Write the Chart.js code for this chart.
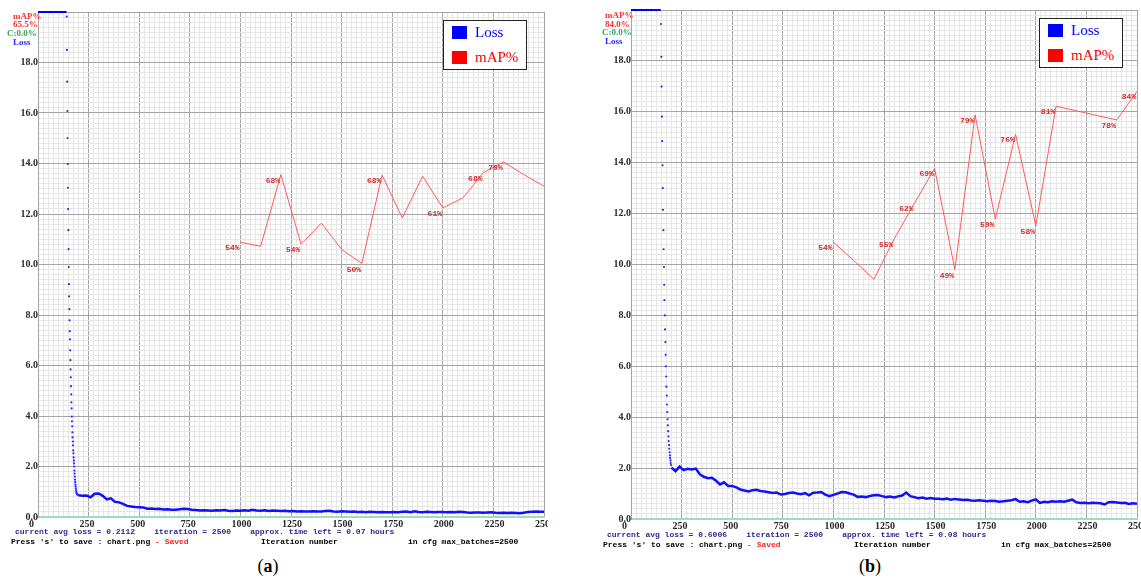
<!DOCTYPE html>
<html lang="en">
<head>
<meta charset="UTF-8">
<title>Training charts</title>
<style>
    body { margin: 0; width: 1141px; height: 586px; position: relative; overflow: hidden; background: #fff; }
    canvas { position: absolute; top: 0; }
    .mono { position: absolute; white-space: pre; font-family: "Liberation Mono", monospace; font-size: 8px; font-weight: bold; line-height: 10px; color: #000; }
    .navy { color: #2a2a90; }
    .red { color: #ff2020; }
    .side { position: absolute; white-space: pre; font-family: "Liberation Serif", serif; font-weight: bold; font-size: 9px; line-height: 10px; }
    .legend { position: absolute; border: 1px solid #222; background: #fff; width: 82px; height: 48px; font-family: "Liberation Serif", serif; font-size: 15px; }
    .legend .sq { position: absolute; left: 8px; width: 15px; height: 13px; }
    .legend .lab { position: absolute; left: 31px; line-height: 16px; }
    .cap { position: absolute; top: 555px; font-family: "Liberation Serif", serif; font-size: 18px; line-height: 22px; transform: translateX(-50%); }
</style>
</head>
<body>
<canvas id="chartA" width="548" height="531" style="left:0px"></canvas>
<canvas id="chartB" width="548" height="533" style="left:593px"></canvas>

<!-- side labels (a) -->
<div class="side" style="left:13px; top:11px; color:#ff3030">mAP%</div>
<div class="side" style="left:13px; top:19px; color:#ff3030">65.5%</div>
<div class="side" style="left:7px; top:28px; color:#30a060">C:0.0%</div>
<div class="side" style="left:13px; top:37px; color:#2a2aff">Loss</div>
<!-- side labels (b) -->
<div class="side" style="left:605px; top:10px; color:#ff3030">mAP%</div>
<div class="side" style="left:605px; top:19px; color:#ff3030">84.0%</div>
<div class="side" style="left:602px; top:27px; color:#30a060">C:0.0%</div>
<div class="side" style="left:605px; top:36px; color:#2a2aff">Loss</div>

<!-- legends -->
<div class="legend" style="left:443px; top:20px">
    <div class="sq" style="top:5px; background:#0000ff"></div><div class="lab" style="top:3px; color:#0000ff">Loss</div>
    <div class="sq" style="top:30px; background:#ff0000"></div><div class="lab" style="top:28px; color:#ff0000">mAP%</div>
</div>
<div class="legend" style="left:1039px; top:18px">
    <div class="sq" style="top:5px; background:#0000ff"></div><div class="lab" style="top:3px; color:#0000ff">Loss</div>
    <div class="sq" style="top:30px; background:#ff0000"></div><div class="lab" style="top:28px; color:#ff0000">mAP%</div>
</div>

<!-- status lines -->
<div class="mono navy" style="left:15px; top:527px">current avg loss = 0.2112    iteration = 2500    approx. time left = 0.07 hours</div>
<div class="mono" style="left:11px; top:537px">Press 's' to save : chart.png <span class="red">- Saved</span></div>
<div class="mono" style="left:261px; top:537px">Iteration number</div>
<div class="mono" style="left:408px; top:537px">in cfg max_batches=2500</div>

<div class="mono navy" style="left:607px; top:530px">current avg loss = 0.6006    iteration = 2500    approx. time left = 0.08 hours</div>
<div class="mono" style="left:603px; top:540px">Press 's' to save : chart.png <span class="red">- Saved</span></div>
<div class="mono" style="left:854px; top:540px">Iteration number</div>
<div class="mono" style="left:1001px; top:540px">in cfg max_batches=2500</div>

<div class="cap" style="left:268px">(<b>a</b>)</div>
<div class="cap" style="left:870px">(<b>b</b>)</div>

<script src="https://cdn.jsdelivr.net/npm/chart.js"></script>
<script>
// ---- data (a) ----
const topIterA = [0, 141];
const topLossA = [20, 20];
const dropIterA = [142,143,144,145,146,147,148,149,150,151,152,153,154,155,156,157,158,159,160,161,
                   162,163,164,165,166,167,168,169,170,171,172,173,174,175,176,177,178,179,180,181,
                   182,183,184,185,186,187,188,189,190,192,194,196,198];
const dropLossA = [19.82,18.50,17.24,16.08,15.01,13.98,13.04,12.19,11.36,10.61,9.90,9.22,8.74,8.23,7.79,7.36,7.04,6.60,6.21,5.85,
                   5.53,5.18,4.86,4.54,4.30,3.98,3.79,3.59,3.35,3.15,2.99,2.84,2.64,2.52,2.36,2.24,2.12,2.00,1.84,1.72,
                   1.60,1.48,1.38,1.28,1.20,1.12,1.05,0.99,0.95,0.92,0.90,0.88,0.87];
const tailIters = [200,220,240,260,280,300,320,340,360,380,
                   400,420,440,460,480,500,520,540,560,580,
                   600,620,640,660,680,700,720,740,760,780,
                   800,820,840,860,880,900,920,940,960,980,
                   1000,1020,1040,1060,1080,1100,1120,1140,1160,1180,
                   1200,1220,1240,1260,1280,1300,1320,1340,1360,1380,
                   1400,1420,1440,1460,1480,1500,1520,1540,1560,1580,
                   1600,1620,1640,1660,1680,1700,1720,1740,1760,1780,
                   1800,1820,1840,1860,1880,1900,1920,1940,1960,1980,
                   2000,2020,2040,2060,2080,2100,2120,2140,2160,2180,
                   2200,2220,2240,2260,2280,2300,2320,2340,2360,2380,
                   2400,2420,2440,2460,2480,2500];
const tailLossA = [0.86,0.84,0.85,0.78,0.92,0.93,0.84,0.70,0.74,0.60,
                   0.58,0.52,0.44,0.42,0.40,0.39,0.38,0.33,0.34,0.32,
                   0.33,0.30,0.31,0.29,0.29,0.31,0.33,0.32,0.29,0.28,
                   0.26,0.27,0.26,0.25,0.27,0.26,0.28,0.25,0.24,0.26,
                   0.25,0.27,0.25,0.29,0.26,0.25,0.27,0.24,0.26,0.25,
                   0.24,0.25,0.23,0.24,0.22,0.23,0.22,0.22,0.23,0.22,
                   0.22,0.24,0.25,0.22,0.21,0.23,0.22,0.21,0.22,0.20,
                   0.21,0.19,0.21,0.20,0.19,0.20,0.19,0.19,0.20,0.19,
                   0.21,0.22,0.19,0.23,0.20,0.19,0.21,0.20,0.19,0.20,
                   0.20,0.19,0.20,0.19,0.21,0.20,0.18,0.17,0.18,0.18,
                   0.17,0.18,0.19,0.17,0.16,0.17,0.16,0.17,0.16,0.15,
                   0.17,0.20,0.21,0.22,0.21,0.21];
const mapIters = [1000,1100,1200,1300,1400,1500,1600,1700,1800,1900,2000,2100,2200,2300,2400,2500];
const mapA = [54.4,53.6,67.8,54.0,58.2,53.0,50.2,67.7,59.2,67.5,61.2,63.2,68.2,70.3,67.8,65.5];
const mapLabelsA = ['54%','','68%','54%','','','50%','68%','','','61%','','68%','70%','',''];

// ---- data (b) ----
const topIterB = [0, 147];
const topLossB = [20, 20];
const dropIterB = [148,150,151,153,154,156,157,158,160,161,163,164,165,167,168,170,171,172,
                   174,175,177,178,179,181,182,184,185,186,188,189,191,192,193,195,196,198];
const dropLossB = [19.45,18.16,16.99,15.81,14.85,13.90,13.00,12.15,11.35,10.60,9.90,9.20,8.60,8.00,7.45,6.95,6.45,6.00,
                   5.60,5.20,4.85,4.50,4.20,3.92,3.68,3.45,3.25,3.06,2.90,2.76,2.62,2.50,2.40,2.30,2.20,2.12];
const tailLossB = [2.02,1.88,2.06,1.92,1.97,1.95,1.98,1.76,1.66,1.60,
                   1.62,1.50,1.36,1.44,1.30,1.30,1.24,1.16,1.12,1.08,
                   1.13,1.15,1.10,1.08,1.05,1.02,1.04,0.96,0.98,1.02,
                   1.04,1.00,0.97,1.02,0.93,1.03,1.04,1.06,0.96,0.90,
                   0.95,1.00,1.06,1.05,1.00,0.96,0.87,0.88,0.86,0.90,
                   0.93,0.94,0.90,0.86,0.88,0.85,0.89,0.92,1.04,0.90,
                   0.86,0.82,0.84,0.80,0.82,0.80,0.80,0.78,0.80,0.76,
                   0.79,0.77,0.75,0.76,0.73,0.72,0.74,0.72,0.70,0.72,
                   0.71,0.68,0.70,0.72,0.74,0.78,0.68,0.70,0.66,0.72,
                   0.77,0.63,0.68,0.66,0.70,0.68,0.70,0.68,0.72,0.76,
                   0.66,0.63,0.64,0.62,0.64,0.63,0.62,0.57,0.66,0.67,
                   0.65,0.63,0.64,0.59,0.62,0.60];
const mapB = [54.4,50.8,47.1,55.0,62.0,68.9,49.0,79.4,58.9,75.6,57.6,81.1,80.2,79.3,78.4,84.0];
const mapLabelsB = ['54%','','','55%','62%','69%','49%','79%','59%','76%','58%','81%','','','78%','84%'];

const MAJOR = '#a4a4a4';
const MINOR = '#e6e6e6';
const AXIS_GREEN = '#9fdcbc';
const tickFont = { family: 'Liberation Serif', size: 10, weight: 'bold' };

function pts(xs, ys) {
    return xs.map((x, i) => ({ x: x, y: ys[i] }));
}

function isMul(v, m) {
    return Math.abs(v / m - Math.round(v / m)) < 1e-6;
}

// draws the "54%" style labels next to the mAP points
const mapLabelPlugin = {
    id: 'mapLabels',
    afterDatasetsDraw(chart) {
        const ctx = chart.ctx;
        chart.data.datasets.forEach((ds, di) => {
            if (!ds.pointLabels) return;
            const meta = chart.getDatasetMeta(di);
            ctx.save();
            ctx.font = 'bold 8px "Liberation Mono"';
            ctx.fillStyle = '#d02a2a';
            ctx.textAlign = 'center';
            ctx.textBaseline = 'middle';
            meta.data.forEach((p, i) => {
                const t = ds.pointLabels[i];
                if (t) ctx.fillText(t, p.x - 8, p.y + 6);
            });
            ctx.restore();
        });
    }
};

function makeChart(id, topPad, d) {
    return new Chart(document.getElementById(id), {
        type: 'line',
        data: {
            datasets: [
                { data: pts(d.topIter, d.topLoss), borderColor: '#0000ff', borderWidth: 2, pointRadius: 0, clip: 4 },
                { data: pts(d.dropIter, d.dropLoss), showLine: false, pointRadius: 1.1, pointBorderWidth: 0,
                  pointBackgroundColor: '#2a2aff' },
                { data: pts(tailIters, d.tailLoss), borderColor: '#1010ff', borderWidth: 2.5, pointRadius: 0 },
                { data: pts(mapIters, d.map), yAxisID: 'yMap', borderColor: '#ff5a5a', borderWidth: 1,
                  pointRadius: 0, pointLabels: d.mapLabels }
            ]
        },
        options: {
            responsive: false,
            animation: false,
            layout: { padding: { top: topPad, left: 0, right: 0, bottom: 0 } },
            plugins: { legend: { display: false }, tooltip: { enabled: false } },
            scales: {
                x: {
                    type: 'linear', min: 0, max: 2500,
                    grid: { color: c => isMul(c.tick.value, 250) ? MAJOR : MINOR, drawTicks: false },
                    border: { color: AXIS_GREEN, width: 2 },
                    ticks: {
                        stepSize: 25, maxTicksLimit: 101, autoSkip: false, maxRotation: 0,
                        align: 'start', labelOffset: -9, padding: 1,
                        font: tickFont, color: '#2a2a2a',
                        callback: v => isMul(v, 250) ? String(Math.round(v)) : ''
                    },
                    afterFit: s => { s.height = 14; s.paddingLeft = 0; s.paddingRight = 0; }
                },
                y: {
                    min: 0, max: 20,
                    grid: {
                        color: c => c.tick.value === 0 ? AXIS_GREEN : (isMul(c.tick.value, 2) ? MAJOR : MINOR),
                        drawTicks: false
                    },
                    border: { color: MAJOR, width: 1 },
                    ticks: {
                        stepSize: 0.2, maxTicksLimit: 101, autoSkip: false, padding: 0,
                        font: tickFont, color: '#2a2a2a',
                        callback: v => (isMul(v, 2) && v < 19.9) ? v.toFixed(1) : ''
                    },
                    afterFit: s => { s.width = 38; s.paddingTop = 0; s.paddingBottom = 0; }
                },
                yMap: { type: 'linear', min: 0, max: 100, display: false }
            }
        },
        plugins: [mapLabelPlugin]
    });
}

makeChart('chartA', 12, {
    topIter: topIterA, topLoss: topLossA, dropIter: dropIterA, dropLoss: dropLossA,
    tailLoss: tailLossA, map: mapA, mapLabels: mapLabelsA
});
makeChart('chartB', 10, {
    topIter: topIterB, topLoss: topLossB, dropIter: dropIterB, dropLoss: dropLossB,
    tailLoss: tailLossB, map: mapB, mapLabels: mapLabelsB
});
</script>
</body>
</html>
